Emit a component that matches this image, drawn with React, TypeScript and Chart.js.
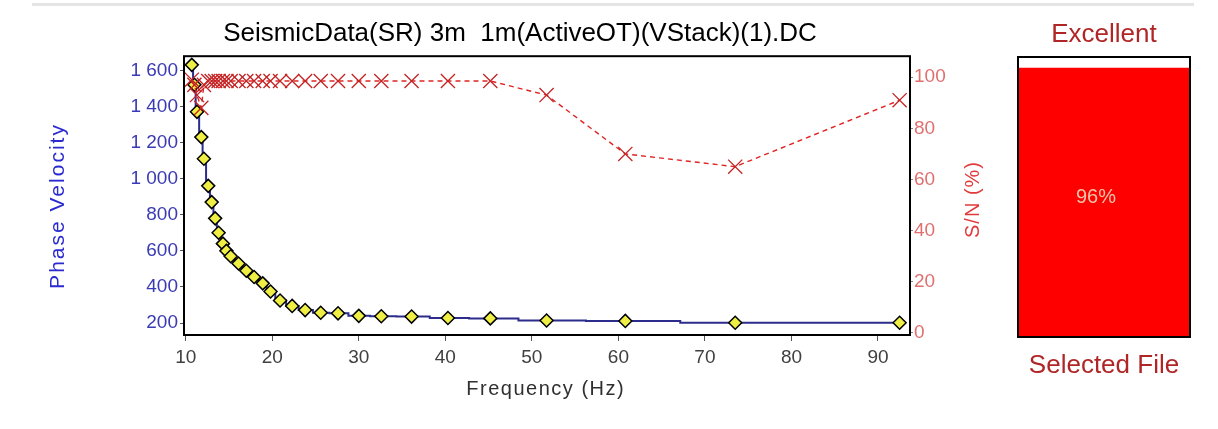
import React, { useEffect, useRef } from 'react';
import { Chart, registerables } from 'chart.js';

Chart.register(...registerables);

// ---- data ----
const frequencyHz = [
  10.7, 11.0, 11.3, 11.8, 12.1, 12.6, 13.0, 13.4, 13.8, 14.3, 14.7, 15.2, 16.1, 17.0, 17.9, 18.9,
  19.8, 20.9, 22.3, 23.8, 25.6, 27.6, 30.0, 32.6, 36.1, 40.3, 45.2, 51.7, 60.8, 73.5, 92.5,
];
const phaseVelocity = [
  1630, 1520, 1370, 1230, 1110, 960, 870, 780, 700, 640, 600, 570, 530, 490, 455, 420,
  375, 325, 295, 272, 257, 254, 240, 238, 236, 228, 226, 214, 212, 202, 202,
];
const signalToNoise = [
  99, 97, 93, 88, 97, 98.5, 98.5, 98.5, 98.5, 98.5, 98.5, 98.5, 98.5, 98.5, 98.5, 98.5,
  98.5, 98.5, 98.5, 98.5, 98.5, 98.5, 98.5, 98.5, 98.5, 98.5, 98.5, 93, 70, 65, 91,
];
const chartTitle = 'SeismicData(SR) 3m  1m(ActiveOT)(VStack)(1).DC';
const xAxisTitle = 'Frequency (Hz)';
const leftAxisTitle = 'Phase Velocity';
const rightAxisTitle = 'S/N (%)';
const gaugeCategories = ['Selected File'];
const gaugeValues = [96];
const gaugeRating = 'Excellent';

const FONT = '"Liberation Sans", Arial, sans-serif';

function formatThousands(v: number): string {
  if (v >= 1000) {
    const th = Math.floor(v / 1000);
    const rest = String(Math.round(v % 1000)).padStart(3, '0');
    return `${th} ${rest}`;
  }
  return String(v);
}

function drawText(
  ctx: CanvasRenderingContext2D,
  text: string,
  x: number,
  y: number,
  rot: number,
  color: string,
  size: number,
  spacing: number,
) {
  ctx.save();
  ctx.translate(x, y);
  ctx.rotate(rot);
  ctx.fillStyle = color;
  ctx.font = `${size}px ${FONT}`;
  (ctx as any).letterSpacing = `${spacing}px`;
  ctx.textAlign = 'center';
  ctx.textBaseline = 'middle';
  ctx.fillText(text, spacing / 2, 0);
  ctx.restore();
}

const framePlugin = {
  id: 'frameBox',
  afterDatasetsDraw(chart: any) {
    const { ctx, chartArea: a } = chart;
    ctx.save();
    ctx.strokeStyle = '#000';
    ctx.lineWidth = 2;
    ctx.strokeRect(a.left, a.top, a.right - a.left, a.bottom - a.top);
    ctx.restore();
  },
};

const axisTitlesPlugin = {
  id: 'axisTitles',
  afterDraw(chart: any) {
    const { ctx, chartArea: a } = chart;
    drawText(ctx, leftAxisTitle, 58, 207, -Math.PI / 2, '#2a2ad0', 21, 2);
    drawText(ctx, xAxisTitle, (a.left + a.right) / 2 - 2, 389, 0, '#303030', 20, 1.5);
    drawText(ctx, rightAxisTitle, 973, 200, -Math.PI / 2, '#e03a3a', 20, 1);
  },
};

const gaugeTextPlugin = {
  id: 'gaugeText',
  afterDraw(chart: any) {
    const { ctx, chartArea: a } = chart;
    ctx.save();
    ctx.strokeStyle = '#000';
    ctx.lineWidth = 2;
    ctx.strokeRect(a.left, a.top, a.right - a.left, a.bottom - a.top);
    ctx.restore();
    drawText(ctx, `${gaugeValues[0]}%`, (a.left + a.right) / 2 - 8, 197, 0, '#f2c4ac', 20, 0);
  },
};

function MainChart() {
  const ref = useRef<HTMLCanvasElement>(null);
  useEffect(() => {
    if (!ref.current) return;
    const chart = new Chart(ref.current, {
      type: 'line',
      data: {
        datasets: [
          {
            label: 'S/N',
            data: frequencyHz.map((f, i) => ({ x: f, y: signalToNoise[i] })),
            yAxisID: 'y1',
            order: 0,
            borderColor: '#e02424',
            borderWidth: 1.4,
            borderDash: [5, 4],
            pointStyle: 'crossRot',
            pointRadius: 10,
            pointBorderColor: '#c42424',
            pointBorderWidth: 1.3,
            pointBackgroundColor: 'rgba(0,0,0,0)',
            fill: false,
            tension: 0,
          },
          {
            label: 'Phase Velocity',
            data: frequencyHz.map((f, i) => ({ x: f, y: phaseVelocity[i] })),
            yAxisID: 'y',
            order: 1,
            borderColor: '#2c2c8c',
            borderWidth: 2,
            stepped: 'middle',
            pointStyle: 'rectRot',
            pointRadius: 6.5,
            pointBackgroundColor: '#eeee44',
            pointBorderColor: '#000',
            pointBorderWidth: 1.5,
            fill: false,
          },
        ],
      },
      options: {
        animation: false,
        responsive: false,
        maintainAspectRatio: false,
        layout: { padding: 0 },
        plugins: {
          legend: { display: false },
          tooltip: { enabled: false },
          title: {
            display: true,
            text: chartTitle,
            color: '#000',
            font: { family: FONT, size: 26, weight: 'normal' },
            padding: { top: 18, bottom: 7 },
          },
        },
        scales: {
          x: {
            type: 'linear',
            min: 9.8,
            max: 93.7,
            afterFit: (s: any) => { s.height = 94; },
            ticks: {
              stepSize: 10,
              includeBounds: false,
              color: '#404040',
              font: { family: FONT, size: 19 },
              padding: 5,
              maxRotation: 0,
            },
            grid: { drawOnChartArea: false, drawTicks: true, tickLength: 6, color: '#555' },
            border: { display: false },
          },
          y: {
            type: 'linear',
            position: 'left',
            min: 134,
            max: 1678,
            afterFit: (s: any) => { s.width = 184; },
            ticks: {
              stepSize: 200,
              includeBounds: false,
              color: '#3a3ab4',
              font: { family: FONT, size: 19 },
              padding: 2,
              callback: (v: any) => formatThousands(Number(v)),
            },
            grid: { drawOnChartArea: false, drawTicks: true, tickLength: 4, color: '#555' },
            border: { display: false },
          },
          y1: {
            type: 'linear',
            position: 'right',
            min: -0.8,
            max: 108.2,
            afterFit: (s: any) => { s.width = 130; },
            ticks: {
              stepSize: 20,
              includeBounds: false,
              color: '#e07070',
              font: { family: FONT, size: 19 },
              padding: 1,
            },
            grid: { drawOnChartArea: false, drawTicks: true, tickLength: 3, color: '#888' },
            border: { display: false },
          },
        },
      },
      plugins: [framePlugin, axisTitlesPlugin],
    } as any);
    return () => chart.destroy();
  }, []);
  return (
    <canvas
      ref={ref}
      width={1040}
      height={429}
      style={{ position: 'absolute', left: 0, top: 0, width: 1040, height: 429 }}
    />
  );
}

function GaugeChart() {
  const ref = useRef<HTMLCanvasElement>(null);
  useEffect(() => {
    if (!ref.current) return;
    const chart = new Chart(ref.current, {
      type: 'bar',
      data: {
        labels: gaugeCategories,
        datasets: [
          {
            label: 'Quality',
            data: gaugeValues,
            backgroundColor: '#ff0000',
            borderWidth: 0,
            barPercentage: 1,
            categoryPercentage: 1,
          },
        ],
      },
      options: {
        animation: false,
        responsive: false,
        maintainAspectRatio: false,
        layout: { padding: { left: 18, right: 28, top: 0, bottom: 0 } },
        plugins: {
          legend: { display: false },
          tooltip: { enabled: false },
          title: {
            display: true,
            text: gaugeRating,
            color: '#b02626',
            font: { family: FONT, size: 26, weight: 'normal' },
            padding: { top: 19, bottom: 6.8 },
          },
        },
        scales: {
          x: {
            display: true,
            afterFit: (s: any) => { s.height = 92; },
            ticks: { display: false },
            grid: { display: false },
            border: { display: false },
            title: {
              display: true,
              text: gaugeCategories[0],
              color: '#b02626',
              font: { family: FONT, size: 26 },
              padding: { top: 0, bottom: 48 },
            },
          },
          y: { display: false, min: 0, max: 100 },
        },
      },
      plugins: [gaugeTextPlugin],
    } as any);
    return () => chart.destroy();
  }, []);
  return (
    <canvas
      ref={ref}
      width={218}
      height={429}
      style={{ position: 'absolute', left: 1000, top: 0, width: 218, height: 429 }}
    />
  );
}

export default function App() {
  return (
    <div
      style={{
        position: 'fixed',
        left: 0,
        top: 0,
        width: 1218,
        height: 429,
        background: '#fff',
        overflow: 'hidden',
      }}
    >
      <div
        style={{
          position: 'absolute',
          left: 32,
          top: 3,
          width: 1162,
          height: 3,
          background: '#e4e4e4',
        }}
      />
      <MainChart />
      <GaugeChart />
    </div>
  );
}
